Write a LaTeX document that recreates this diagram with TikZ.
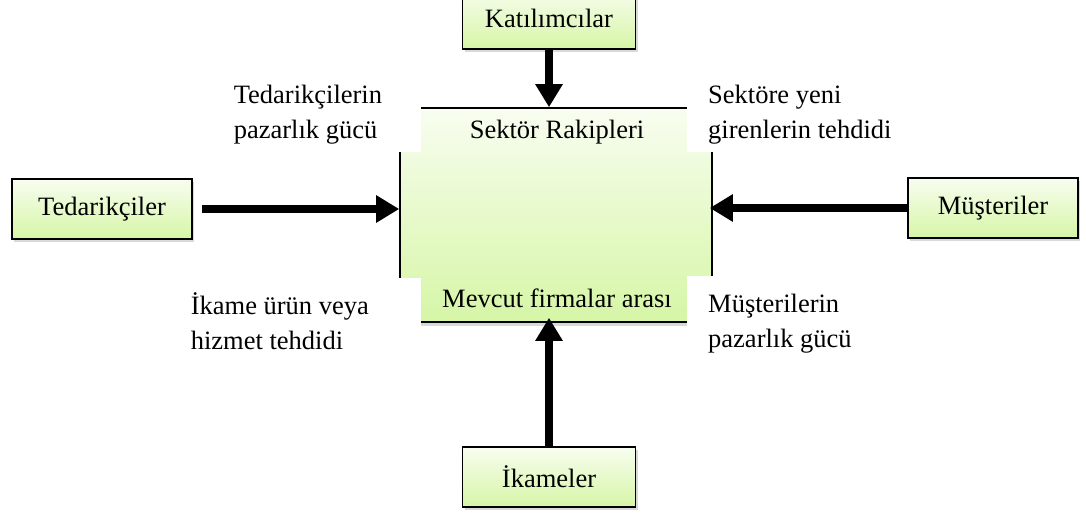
\documentclass[tikz,border=0pt]{standalone}
\usepackage{fontspec}
\setmainfont{Liberation Serif}
\usetikzlibrary{arrows.meta,positioning,shadows}
\definecolor{boxtop}{RGB}{248,253,240}
\definecolor{boxbot}{RGB}{214,246,166}
\tikzstyle{force} = [draw,line width=1.6pt,top color=boxtop,bottom color=boxbot,minimum width=173pt,minimum height=60pt,drop shadow={shadow xshift=2pt,shadow yshift=-3pt,opacity=0.3}]
\tikzstyle{rival} = [draw,line width=1.6pt,top color=boxtop,bottom color=boxbot,minimum width=312pt,minimum height=214pt,inner sep=0,drop shadow={shadow xshift=1pt,shadow yshift=-4pt,opacity=0.3}]
\tikzstyle{note} = [fill=white,align=flush left,inner ysep=8pt]
\tikzstyle{push} = [line width=7.5pt,-{Triangle[length=23pt,width=26pt]}]

\begin{document}
\begin{tikzpicture}[x=1pt,y=-1pt,font=\fontsize{26.5}{35}\selectfont]
      \useasboundingbox (0,0) rectangle (1086,512);
      \node[rival] (rak) at (556,215) {};
      \node (sr) at (557,132) {Sektör Rakipleri};
      \node (mf) at (557,298) {Mevcut firmalar arası};
      % notes over the corners of the middle box
      \node[note,anchor=south east,inner xsep=4pt,text width=183pt] (tg) at (421,152) {Tedarikçilerin\\pazarlık gücü};
      \node[note,anchor=south west,inner xsep=21pt,text width=220pt] (yg) at (687,152) {Sektöre yeni\\girenlerin tehdidi};
      \node[note,anchor=north east,inner xsep=4pt,inner ysep=14pt,text width=226pt] (it) at (421,278) {İkame ürün veya\\hizmet tehdidi};
      \node[note,anchor=north west,inner xsep=21pt,inner ysep=18pt,text width=220pt] (mg) at (687,276) {Müşterilerin\\pazarlık gücü};
      % the four forces
      \node[force,minimum height=62pt] (kat) at (549,18) {Katılımcılar};
      \node[force,minimum width=180pt] (ted) at (102,209) {Tedarikçiler};
      \node[force,minimum width=170pt] (mus) at (993,208) {Müşteriler};
      \node[force] (ika) at (549,477) {İkameler};
      \draw[push] (kat) -- (kat |- rak.north);
      \draw[push,shorten <=9pt] (ted) -- (ted -| rak.west);
      \draw[push,shorten >=-3pt] (mus) -- (mus -| rak.east);
      \draw[push,shorten >=-5pt] (ika) -- (ika |- rak.south);
    \end{tikzpicture}
\end{document}
